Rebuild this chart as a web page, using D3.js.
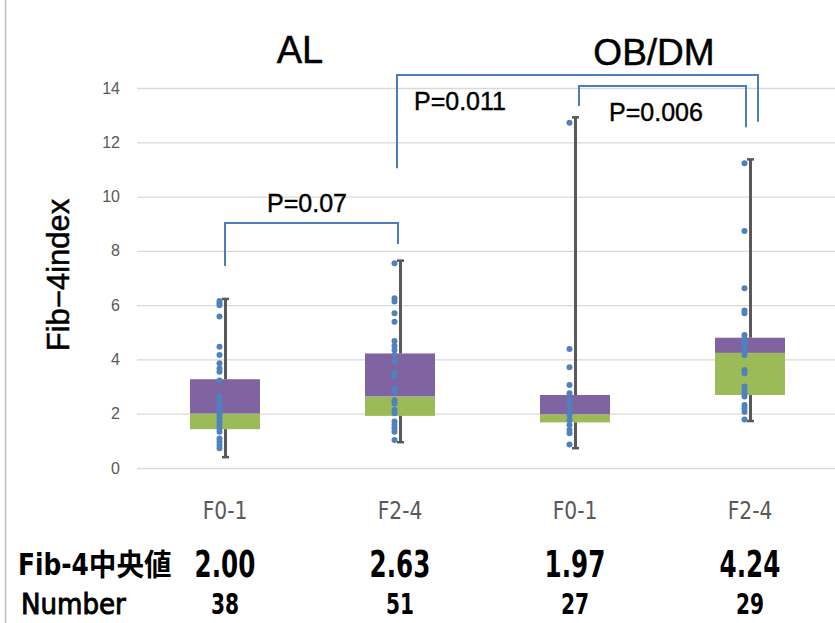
<!DOCTYPE html>
<html>
<head>
<meta charset="utf-8">
<script src="https://cdn.jsdelivr.net/npm/d3@7"></script>
<style>
  html, body { margin:0; padding:0; background:#fff; }
  svg { display:block; }
  .narrow { font-family:"Liberation Sans Narrow","DejaVu Sans Condensed","Noto Sans CJK JP",sans-serif; }
</style>
</head>
<body>
<svg id="chart" width="835" height="623"></svg>
<script>
// ── data ──
const groups   = ['AL', 'OB/DM'];
const cats     = ['F0-1', 'F2-4', 'F0-1', 'F2-4'];
const yTicks   = [0, 2, 4, 6, 8, 10, 12, 14];

const q1  = [1.43, 1.92, 1.68, 2.69];
const med = [2.00, 2.63, 1.97, 4.24];
const q3  = [3.27, 4.22, 2.69, 4.80];
const lo  = [0.40, 0.95, 0.73, 1.73];
const hi  = [6.23, 7.64, 12.92, 11.37];

const pts = [
  [6.15, 6.07, 6.0, 5.58, 4.47, 4.16, 3.86, 3.67, 3.55, 3.22, 2.63, 2.53, 2.32, 2.2, 2.07, 1.95, 1.83, 1.71, 1.58, 1.46, 1.34, 1.09, 0.97, 0.85, 0.73],
  [7.54, 6.25, 6.13, 5.7, 5.39, 4.68, 4.5, 4.35, 4.16, 3.92, 3.51, 3.39, 2.94, 2.81, 2.5, 2.38, 2.14, 2.02, 1.71, 1.58, 1.46, 1.34, 1.03],
  [12.72, 4.38, 3.71, 3.06, 2.75, 2.5, 2.32, 2.14, 1.95, 1.77, 1.58, 1.4, 1.28, 0.87],
  [11.23, 8.73, 6.62, 5.8, 5.7, 4.9, 4.78, 4.65, 4.53, 4.41, 4.29, 4.16, 3.61, 3.49, 3.0, 2.87, 2.75, 2.63, 2.32, 2.2, 2.07, 1.79]
];

const medianText = ['2.00', '2.63', '1.97', '4.24'];
const counts     = [38, 51, 27, 29];

// comparison brackets: categories joined, bar level, left/right leg ends, p label
const cmpFrom  = [0, 1, 2];
const cmpTo    = [1, 3, 3];
const cmpTop   = [9.03, 14.48, 14.07];
const cmpLeft  = [7.44, 11.04, 13.34];
const cmpRight = [8.25, 12.76, 12.55];
const cmpP     = ['P=0.07', 'P=0.011', 'P=0.006'];

// ── layout ──
const svg = d3.select('#chart');
const x = d3.scaleBand().domain(d3.range(cats.length)).range([137.5, 837.5]);
const y = d3.scaleLinear().domain([0, 14]).range([468, 88]);
const cx = i => x(i) + x.bandwidth() / 2;
const boxW = x.bandwidth() * 0.4;

const PURPLE = '#8064a2', GREEN = '#9bbb59', DOT = '#4f81bd', LINE = '#4a7ebb', GRAY = '#595959';
const SANS = '"Liberation Sans", Arial, sans-serif';

// left frame edge
svg.append('line').attr('x1', 5.5).attr('x2', 5.5).attr('y1', 0).attr('y2', 623)
  .attr('stroke', '#bfbfbf').attr('stroke-width', 1.5);

// grid + y axis
const yAxis = d3.axisLeft(y).tickValues(yTicks).tickSize(-(835 - 137)).tickPadding(17);
const ga = svg.append('g').attr('transform', 'translate(137,0)').call(yAxis);
ga.select('.domain').remove();
ga.selectAll('.tick line').attr('stroke', '#d9d9d9').attr('stroke-width', 1.3);
ga.selectAll('.tick text').attr('fill', GRAY).attr('font-size', 16).attr('font-family', SANS);

svg.append('text').attr('transform', 'translate(69,275) rotate(-90)')
  .attr('text-anchor', 'middle').attr('font-size', 31).attr('font-family', SANS)
  .attr('stroke', '#000').attr('stroke-width', 0.5)
  .text('Fib\u22124index');

// group titles
const titleX = [300, 654];
svg.selectAll('.gtitle').data(groups).enter().append('text')
  .attr('x', (d, i) => titleX[i]).attr('y', (d, i) => i ? 65 : 63)
  .attr('text-anchor', 'middle').attr('font-size', (d, i) => i ? 37 : 38)
  .attr('font-family', SANS).attr('stroke', '#000').attr('stroke-width', 0.5)
  .text(d => d);

// boxes
const bx = svg.append('g');
cats.forEach((c, i) => {
  bx.append('rect').attr('x', cx(i) - boxW / 2).attr('width', boxW)
    .attr('y', y(q3[i])).attr('height', y(med[i]) - y(q3[i])).attr('fill', PURPLE);
  bx.append('rect').attr('x', cx(i) - boxW / 2).attr('width', boxW)
    .attr('y', y(med[i])).attr('height', y(q1[i]) - y(med[i])).attr('fill', GREEN);
});

// whiskers (drawn as error bars over the boxes, like the original)
const wk = svg.append('g').attr('stroke', GRAY).attr('stroke-width', 3);
cats.forEach((c, i) => {
  const wx = cx(i) + 0.5;
  wk.append('line').attr('x1', wx).attr('x2', wx).attr('y1', y(q3[i])).attr('y2', y(hi[i]));
  wk.append('line').attr('x1', wx).attr('x2', wx).attr('y1', y(q1[i])).attr('y2', y(lo[i]));
  [hi[i], lo[i]].forEach(v => {
    wk.append('line').attr('x1', wx - 3.5).attr('x2', wx + 3.5).attr('y1', y(v)).attr('y2', y(v))
      .attr('stroke-width', 2.5);
  });
});

// individual points
const pg = svg.append('g').attr('fill', DOT);
pts.forEach((arr, i) => {
  pg.selectAll(null).data(arr).enter().append('circle')
    .attr('cx', cx(i) - 5.5).attr('cy', d => y(d)).attr('r', 3);
});

// comparison brackets
const legDx  = [[0, -2], [-3, 8], [4, -4]];
const labelX = [307, 460, 656];
const labelDy = [-11, 35, 35];
const br = svg.append('g');
cmpP.forEach((p, k) => {
  const x0 = cx(cmpFrom[k]) + legDx[k][0];
  const x1 = cx(cmpTo[k]) + legDx[k][1];
  const yt = y(cmpTop[k]);
  br.append('path')
    .attr('d', d3.line()([[x0, y(cmpLeft[k])], [x0, yt], [x1, yt], [x1, y(cmpRight[k])]]))
    .attr('fill', 'none').attr('stroke', LINE).attr('stroke-width', 2);
  br.append('text').attr('x', labelX[k]).attr('y', yt + labelDy[k])
    .attr('text-anchor', 'middle').attr('font-size', 25).attr('font-family', SANS)
    .attr('stroke', '#000').attr('stroke-width', 0.4)
    .text(p);
});

// category labels
svg.selectAll('.cat').data(cats).enter().append('text')
  .attr('class', 'narrow')
  .attr('transform', (d, i) => `translate(${cx(i)},519) scale(0.9,1)`)
  .attr('text-anchor', 'middle').attr('font-size', 25).attr('fill', GRAY)
  .text(d => d);

// table rows under the chart (condensed, like the original slide text)
svg.append('text').attr('class', 'narrow')
  .attr('transform', 'translate(18,575) scale(0.92,1)')
  .attr('font-size', 30).attr('font-weight', 'bold').text('Fib-4中央値');
svg.selectAll('.med').data(medianText).enter().append('text')
  .attr('class', 'narrow')
  .attr('transform', (d, i) => `translate(${cx(i)},577) scale(0.74,1)`)
  .attr('text-anchor', 'middle').attr('font-size', 37).attr('font-weight', 'bold')
  .text(d => d);

svg.append('text').attr('class', 'narrow')
  .attr('transform', 'translate(21,614) scale(1,1)')
  .attr('font-size', 29).text('Number')
  .attr('stroke', '#000').attr('stroke-width', 0.9);
svg.selectAll('.cnt').data(counts).enter().append('text')
  .attr('class', 'narrow')
  .attr('transform', (d, i) => `translate(${cx(i)},614) scale(0.8,1)`)
  .attr('text-anchor', 'middle').attr('font-size', 28).attr('font-weight', 'bold')
  .text(d => d);
</script>
</body>
</html>
